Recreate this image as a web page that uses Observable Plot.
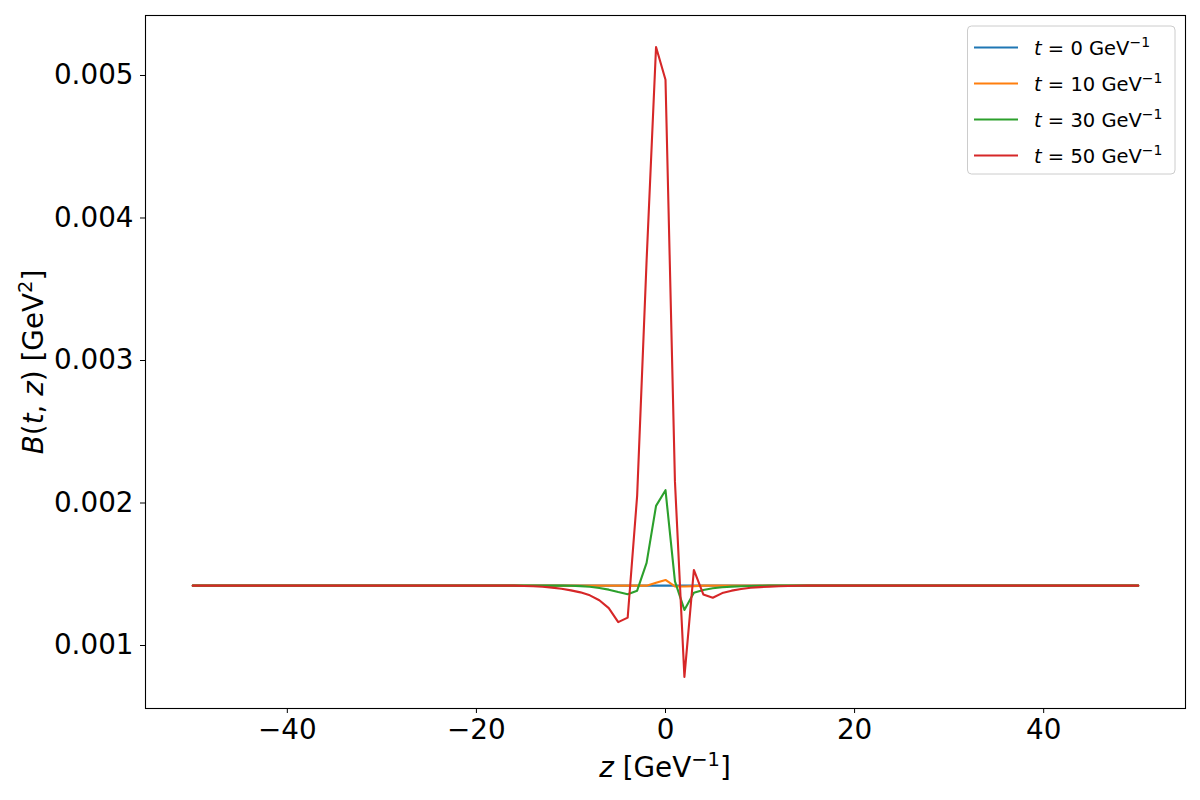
<!DOCTYPE html>
<html><head><meta charset="utf-8">
<script src="https://cdn.jsdelivr.net/npm/d3@7"></script>
<script src="https://cdn.jsdelivr.net/npm/@observablehq/plot@0.6"></script>
<style>
body{margin:0;background:#fff;}
#chart{position:relative;width:1200px;height:800px;}
</style></head><body><div id="chart"></div>
<script>
const z = [
 -50,-49,-48,-47,-46,-45,-44,-43,-42,-41,
 -40,-39,-38,-37,-36,-35,-34,-33,-32,-31,
 -30,-29,-28,-27,-26,-25,-24,-23,-22,-21,
 -20,-19,-18,-17,-16,-15,-14,-13,-12,-11,
 -10,-9,-8,-7,-6,-5,-4,-3,-2,-1,
 0,1,2,3,4,5,6,7,8,9,
 10,11,12,13,14,15,16,17,18,19,
 20,21,22,23,24,25,26,27,28,29,
 30,31,32,33,34,35,36,37,38,39,
 40,41,42,43,44,45,46,47,48,49,
 50];

const B_t0 = [
 0.00142,0.00142,0.00142,0.00142,0.00142,0.00142,0.00142,0.00142,0.00142,0.00142,
 0.00142,0.00142,0.00142,0.00142,0.00142,0.00142,0.00142,0.00142,0.00142,0.00142,
 0.00142,0.00142,0.00142,0.00142,0.00142,0.00142,0.00142,0.00142,0.00142,0.00142,
 0.00142,0.00142,0.00142,0.00142,0.00142,0.00142,0.00142,0.00142,0.00142,0.00142,
 0.00142,0.00142,0.00142,0.00142,0.00142,0.00142,0.00142,0.00142,0.00142,0.00142,
 0.00142,0.00142,0.00142,0.00142,0.00142,0.00142,0.00142,0.00142,0.00142,0.00142,
 0.00142,0.00142,0.00142,0.00142,0.00142,0.00142,0.00142,0.00142,0.00142,0.00142,
 0.00142,0.00142,0.00142,0.00142,0.00142,0.00142,0.00142,0.00142,0.00142,0.00142,
 0.00142,0.00142,0.00142,0.00142,0.00142,0.00142,0.00142,0.00142,0.00142,0.00142,
 0.00142,0.00142,0.00142,0.00142,0.00142,0.00142,0.00142,0.00142,0.00142,0.00142,
 0.00142];

const B_t10 = [
 0.00142,0.00142,0.00142,0.00142,0.00142,0.00142,0.00142,0.00142,0.00142,0.00142,
 0.00142,0.00142,0.00142,0.00142,0.00142,0.00142,0.00142,0.00142,0.00142,0.00142,
 0.00142,0.00142,0.00142,0.00142,0.00142,0.00142,0.00142,0.00142,0.00142,0.00142,
 0.00142,0.00142,0.00142,0.00142,0.00142,0.00142,0.00142,0.00142,0.00142,0.00142,
 0.00142,0.00142,0.00142,0.00142,0.00142,0.00142,0.00142,0.00142,0.00142,0.00144,
 0.00146,0.001415,0.001414,0.001417,0.00142,0.00142,0.00142,0.00142,0.00142,0.00142,
 0.00142,0.00142,0.00142,0.00142,0.00142,0.00142,0.00142,0.00142,0.00142,0.00142,
 0.00142,0.00142,0.00142,0.00142,0.00142,0.00142,0.00142,0.00142,0.00142,0.00142,
 0.00142,0.00142,0.00142,0.00142,0.00142,0.00142,0.00142,0.00142,0.00142,0.00142,
 0.00142,0.00142,0.00142,0.00142,0.00142,0.00142,0.00142,0.00142,0.00142,0.00142,
 0.00142];

const B_t30 = [
 0.00142,0.00142,0.00142,0.00142,0.00142,0.00142,0.00142,0.00142,0.00142,0.00142,
 0.00142,0.00142,0.00142,0.00142,0.00142,0.00142,0.00142,0.00142,0.00142,0.00142,
 0.00142,0.00142,0.00142,0.00142,0.00142,0.00142,0.00142,0.00142,0.00142,0.00142,
 0.00142,0.00142,0.00142,0.00142,0.00142,0.00142,0.00142,0.00142,0.00142,0.00142,
 0.001419,0.001417,0.001412,0.001404,0.001392,0.001375,0.00136,0.001385,0.00158,0.00198,
 0.00209,0.00145,0.00125,0.00137,0.00139,0.001402,0.001409,0.001413,0.001416,0.001418,
 0.001419,0.00142,0.00142,0.00142,0.00142,0.00142,0.00142,0.00142,0.00142,0.00142,
 0.00142,0.00142,0.00142,0.00142,0.00142,0.00142,0.00142,0.00142,0.00142,0.00142,
 0.00142,0.00142,0.00142,0.00142,0.00142,0.00142,0.00142,0.00142,0.00142,0.00142,
 0.00142,0.00142,0.00142,0.00142,0.00142,0.00142,0.00142,0.00142,0.00142,0.00142,
 0.00142];

const B_t50 = [
 0.00142,0.00142,0.00142,0.00142,0.00142,0.00142,0.00142,0.00142,0.00142,0.00142,
 0.00142,0.00142,0.00142,0.00142,0.00142,0.00142,0.00142,0.00142,0.00142,0.00142,
 0.00142,0.00142,0.00142,0.00142,0.00142,0.00142,0.00142,0.00142,0.00142,0.00142,
 0.00142,0.00142,0.00142,0.00142,0.00142,0.001418,0.001416,0.001412,0.001406,0.001398,
 0.001387,0.001373,0.001352,0.001318,0.001262,0.001164,0.001196,0.00205,0.0037,0.0052,
 0.00497,0.00215,0.00078,0.00153,0.001358,0.001335,0.001368,0.001385,0.001397,0.001405,
 0.00141,0.001413,0.001416,0.001418,0.001419,0.00142,0.00142,0.00142,0.00142,0.00142,
 0.00142,0.00142,0.00142,0.00142,0.00142,0.00142,0.00142,0.00142,0.00142,0.00142,
 0.00142,0.00142,0.00142,0.00142,0.00142,0.00142,0.00142,0.00142,0.00142,0.00142,
 0.00142,0.00142,0.00142,0.00142,0.00142,0.00142,0.00142,0.00142,0.00142,0.00142,
 0.00142];

const tValues = ["0", "10", "30", "50"];
const seriesColors = ["#1f77b4", "#ff7f0e", "#2ca02c", "#d62728"];
const xTicks = [-40, -20, 0, 20, 40];
const yTicks = [0.001, 0.002, 0.003, 0.004, 0.005];

const rows = [];
[B_t0, B_t10, B_t30, B_t50].forEach((arr, i) =>
  arr.forEach((v, j) => rows.push({z: z[j], B: v, t: tValues[i]})));

const FONT = "'DejaVu Sans', sans-serif";

const plot = Plot.plot({
  width: 1200, height: 800,
  marginLeft: 145, marginRight: 15, marginTop: 15, marginBottom: 92,
  style: {fontFamily: FONT, fontSize: "27.8px", color: "black", background: "white"},
  x: {domain: [-55, 55]},
  y: {domain: [0.000558, 0.005421]},
  color: {domain: tValues, range: seriesColors},
  marks: [
    Plot.line(rows, {x: "z", y: "B", stroke: "t", z: "t", strokeWidth: 2.1}),
    Plot.frame({stroke: "black", strokeWidth: 1.1}),
    Plot.axisX({ticks: xTicks, tickSize: 5, tickPadding: 6, label: null, fontSize: 27.8,
      tickFormat: d => d < 0 ? "\u2212" + (-d) : String(d)}),
    Plot.axisY({ticks: yTicks, tickSize: 5, tickPadding: 7, label: null, fontSize: 27.8,
      tickFormat: d3.format(".3f")})
  ]
});
document.getElementById("chart").appendChild(plot);

const svg = d3.select(plot);
// x label
const xl = svg.append("text").attr("x", 665).attr("y", 777)
  .attr("text-anchor", "middle").attr("font-size", 27.8).attr("font-family", FONT).attr("fill", "black");
xl.append("tspan").attr("font-style", "italic").text("z");
xl.append("tspan").text(" [GeV");
xl.append("tspan").attr("font-size", 19.5).attr("dy", -11).text("\u22121");
xl.append("tspan").attr("dy", 11).text("]");

// y label
const yl = svg.append("text").attr("transform", "translate(43,362) rotate(-90)")
  .attr("text-anchor", "middle").attr("font-size", 27.8).attr("font-family", FONT).attr("fill", "black");
yl.append("tspan").attr("font-style", "italic").text("B");
yl.append("tspan").text("(");
yl.append("tspan").attr("font-style", "italic").text("t");
yl.append("tspan").text(", ");
yl.append("tspan").attr("font-style", "italic").text("z");
yl.append("tspan").text(") [GeV");
yl.append("tspan").attr("font-size", 19.5).attr("dy", -11).text("2");
yl.append("tspan").attr("dy", 11).text("]");

// legend
const lg = svg.append("g").attr("text-anchor", "start");
lg.append("rect").attr("x", 967.5).attr("y", 26).attr("width", 207.5).attr("height", 148)
  .attr("rx", 4).attr("fill", "white").attr("fill-opacity", 0.8).attr("stroke", "#cccccc").attr("stroke-width", 1);
tValues.forEach((t, i) => {
  const cy = 47.5 + i * 36;
  lg.append("line").attr("x1", 974).attr("x2", 1018).attr("y1", cy).attr("y2", cy)
    .attr("stroke", seriesColors[i]).attr("stroke-width", 2.1);
  const tx = lg.append("text").attr("x", 1034).attr("y", cy + 7).attr("font-size", 19.5)
    .attr("text-anchor", "start").attr("font-family", FONT).attr("fill", "black");
  tx.append("tspan").attr("font-style", "italic").text("t");
  tx.append("tspan").text(" = " + t + " GeV");
  tx.append("tspan").attr("font-size", 14).attr("dy", -8).text("\u22121");
});
</script>
</body></html>
